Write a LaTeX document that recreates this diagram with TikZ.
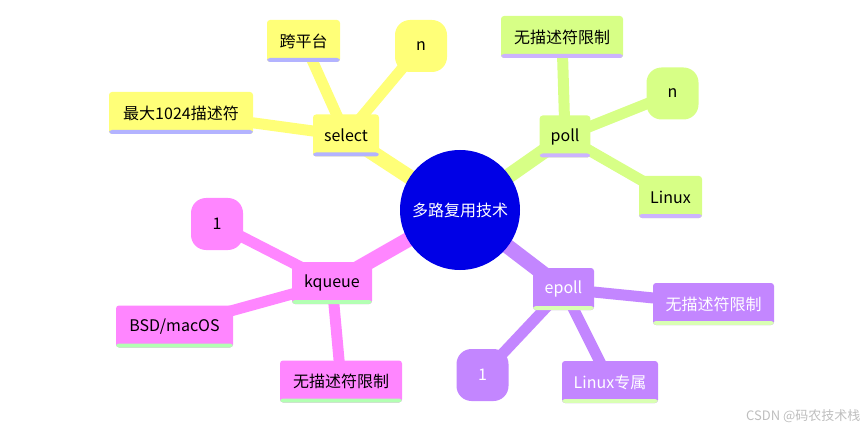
\documentclass[tikz,border=0pt]{standalone}
\usepackage{fontspec}
\setmainfont{Noto Sans CJK SC}
\usetikzlibrary{backgrounds}
\definecolor{rootc}{RGB}{0,0,230}
\definecolor{yel}{RGB}{255,255,120}
\definecolor{yelU}{RGB}{179,179,255}
\definecolor{lim}{RGB}{215,255,134}
\definecolor{limU}{RGB}{204,179,255}
\definecolor{pur}{RGB}{195,134,255}
\definecolor{purU}{RGB}{217,255,179}
\definecolor{pnk}{RGB}{255,134,255}
\definecolor{pnkU}{RGB}{179,255,179}
\definecolor{wm}{RGB}{190,190,190}
\tikzset{
  x=1pt, y=-1pt,
  txt/.style={font=\fontsize{16}{18}\selectfont},
  leaf/.style={txt, rectangle, rounded corners=3pt, fill=#1, minimum height=42pt, inner xsep=11pt, inner ysep=0pt},
  uline/.style={path picture={\fill[#1] (path picture bounding box.south west) rectangle ([yshift=4pt]path picture bounding box.south east);}},
  blob/.style={txt, rectangle, rounded corners=15pt, fill=#1, minimum width=52pt, minimum height=52pt, inner sep=0pt},
  rootedge/.style={line width=15pt, draw=#1},
  subedge/.style={line width=11pt, draw=#1},
}
\begin{document}
\begin{tikzpicture}
\useasboundingbox (0,0) rectangle (868,433);
% root
\node[circle, fill=rootc, minimum size=120pt, inner sep=0pt, txt, text=white] (root) at (460,210) {多路复用技术};
% select branch
\node[leaf=yel, uline=yelU, minimum width=66pt] (sel) at (346,135.5) {select};
\node[leaf=yel, uline=yelU, minimum width=73pt] (kpt) at (303.5,41) {跨平台};
\node[blob=yel] (sn) at (421,46) {n};
\node[leaf=yel, uline=yelU, minimum width=144pt] (max) at (181,113) {最大1024描述符};
% poll branch
\node[leaf=lim, uline=limU, minimum width=50pt] (poll) at (565,136.5) {poll};
\node[leaf=lim, uline=limU, minimum width=122pt] (pnl) at (562,37) {无描述符限制};
\node[blob=lim] (pn) at (672.5,93.5) {n};
\node[leaf=lim, uline=limU, minimum width=63pt] (plin) at (670.5,197) {Linux};
% kqueue branch
\node[leaf=pnk, uline=pnkU, minimum width=80pt] (kq) at (332,283) {kqueue};
\node[blob=pnk] (k1) at (217,224) {1};
\node[leaf=pnk, uline=pnkU, minimum width=117pt] (bsd) at (174.5,326.5) {BSD/macOS};
\node[leaf=pnk, uline=pnkU, minimum width=122pt] (knl) at (341,381.5) {无描述符限制};
% epoll branch
\node[leaf=pur, uline=purU, minimum width=61pt, text=white] (ep) at (563.5,289) {epoll};
\node[leaf=pur, uline=purU, minimum width=121pt, text=white] (enl) at (713.5,304) {无描述符限制};
\node[blob=pur, text=white] (e1) at (482.5,375) {1};
\node[leaf=pur, uline=purU, minimum width=96pt, text=white] (elin) at (610,382) {Linux专属};
% watermark
\node[font=\fontsize{13}{15}\selectfont, text=wm, anchor=east] (wmk) at (864,416) {CSDN @码农技术栈};
\begin{scope}[on background layer]
  \draw[rootedge=yel] (root.center) -- (sel.center);
  \draw[rootedge=lim] (root.center) -- (poll.center);
  \draw[rootedge=pnk] (root.center) -- (kq.center);
  \draw[rootedge=pur] (root.center) -- (ep.center);
  \draw[subedge=yel] (sel.center) -- (kpt.center);
  \draw[subedge=yel] (sel.center) -- (sn.center);
  \draw[subedge=yel] (sel.center) -- (max.center);
  \draw[subedge=lim] (poll.center) -- (pnl.center);
  \draw[subedge=lim] (poll.center) -- (pn.center);
  \draw[subedge=lim] (poll.center) -- (plin.center);
  \draw[subedge=pnk] (kq.center) -- (k1.center);
  \draw[subedge=pnk] (kq.center) -- (bsd.center);
  \draw[subedge=pnk] (kq.center) -- (knl.center);
  \draw[subedge=pur] (ep.center) -- (enl.center);
  \draw[subedge=pur] (ep.center) -- (e1.center);
  \draw[subedge=pur] (ep.center) -- (elin.center);
\end{scope}
\end{tikzpicture}
\end{document}
